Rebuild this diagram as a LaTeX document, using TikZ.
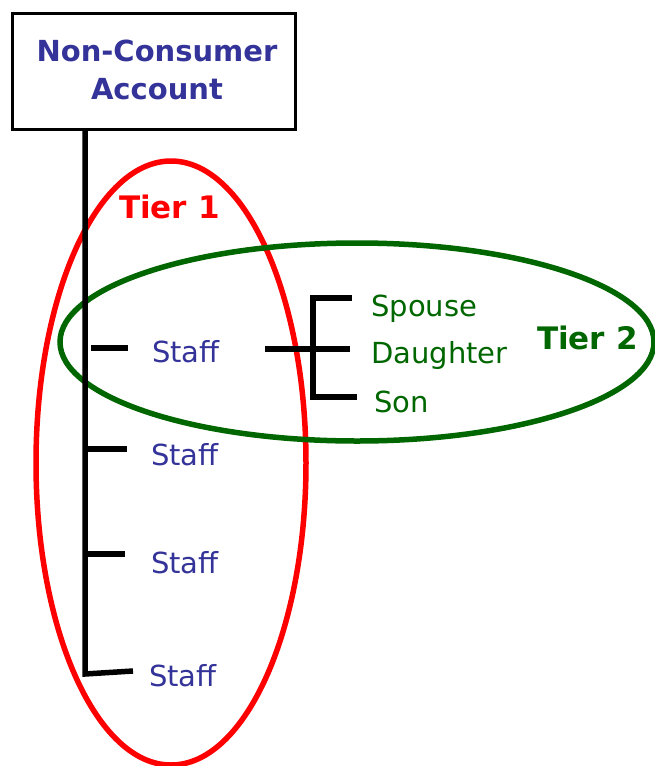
\documentclass[tikz,border=0pt]{standalone}
\usepackage{fontspec}
\setmainfont{DejaVu Sans}
\usetikzlibrary{shapes.geometric}
\definecolor{acctblue}{RGB}{51,51,153}
\definecolor{tiergreen}{RGB}{0,102,0}
\definecolor{tierred}{RGB}{255,0,0}
\begin{document}
\begin{tikzpicture}[x=1pt,y=-1pt,
  txt/.style={inner sep=0pt,anchor=base west,font=\fontsize{29}{31}\selectfont},
  stafftxt/.style={txt,text=acctblue},
  famtxt/.style={txt,text=tiergreen},
  tiertxt/.style={inner sep=0pt,anchor=base west,font=\fontsize{31}{33}\selectfont\bfseries},
  bar/.style={line width=5.5pt,black},
  ring/.style={line width=5.5pt}]
\useasboundingbox (0,0) rectangle (655,766);
% title box
\node[draw=black,line width=2.5pt,minimum width=283pt,minimum height=116pt,anchor=north west,inner sep=0pt] (acct) at (11,12) {};
\node[inner sep=0pt,anchor=base,text=acctblue,font=\fontsize{29}{31}\selectfont\bfseries] (t1) at (157,61) {Non-Consumer};
\node[inner sep=0pt,anchor=base,text=acctblue,font=\fontsize{29}{31}\selectfont\bfseries] (t2) at (157,99) {Account};
% ellipses
\node[draw=tierred,ring,ellipse,minimum width=270pt,minimum height=604pt,inner sep=0pt] (tier1ring) at (171,463) {};
\node[draw=tiergreen,ring,ellipse,minimum width=594pt,minimum height=198pt,inner sep=0pt] (tier2ring) at (357,342) {};
% trunk
\coordinate (corner) at (85,674);
\coordinate (e4) at (133,671);
\draw[bar] (acct.south -| corner) -- (corner) -- (e4);
% ticks
\coordinate (s1) at (91,348); \coordinate (e1) at (128,348);
\coordinate (s2) at (85,449); \coordinate (e2) at (127,449);
\coordinate (s3) at (85,554); \coordinate (e3) at (125,554);
\draw[bar] (s1) -- (e1);
\draw[bar] (s2) -- (e2);
\draw[bar] (s3) -- (e3);
% bracket
\coordinate (b0) at (265,349); \coordinate (bm) at (350,349);
\coordinate (bt) at (313,298); \coordinate (bte) at (352,298);
\coordinate (bb) at (313,397); \coordinate (bbe) at (357,397);
\draw[bar] (b0) -- (bm);
\draw[bar] (bte) -- (bt) -- (bb) -- (bbe);
% labels
\node[stafftxt] (st1) at (152,362) {Staff};
\node[stafftxt] (st2) at (151,465) {Staff};
\node[stafftxt] (st3) at (151,573) {Staff};
\node[stafftxt] (st4) at (149,686) {Staff};
\node[famtxt] (sp) at (371,316) {Spouse};
\node[famtxt] (da) at (371,363) {Daughter};
\node[famtxt] (so) at (374,412) {Son};
\node[tiertxt,text=tierred] (tier1) at (119,218) {Tier 1};
\node[tiertxt,text=tiergreen] (tier2) at (537,349) {Tier 2};
\end{tikzpicture}
\end{document}
